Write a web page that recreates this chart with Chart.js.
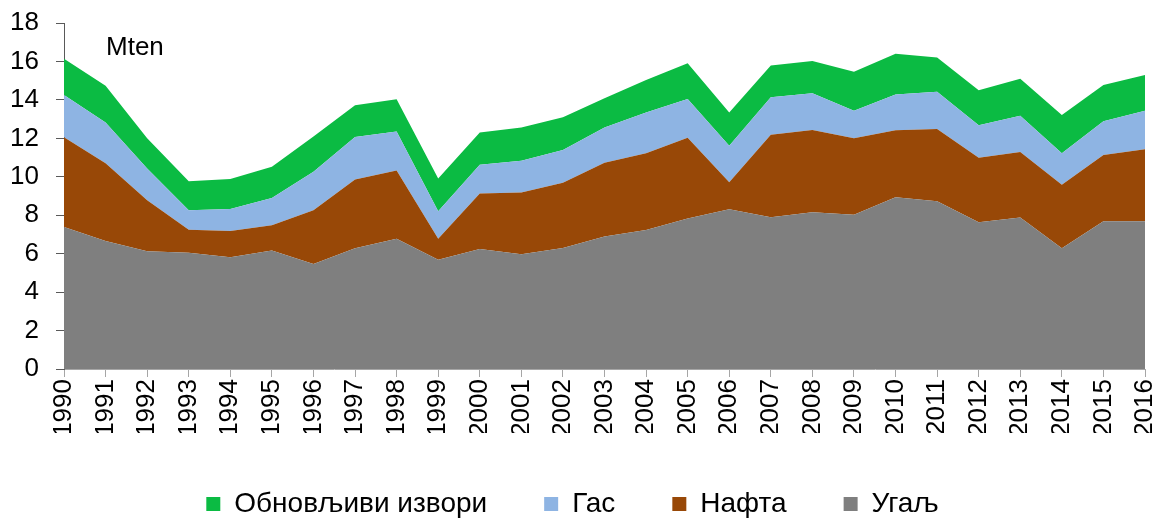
<!DOCTYPE html>
<html>
<head>
<meta charset="utf-8">
<script src="https://cdn.jsdelivr.net/npm/chart.js@4.4.1/dist/chart.umd.min.js"></script>
<style>
  html, body { margin: 0; padding: 0; background: #ffffff; }
  #wrap { width: 1162px; height: 520px; }
</style>
</head>
<body>
<div id="wrap"><canvas id="c" width="1162" height="520"></canvas></div>
<script>
const years = ['1990','1991','1992','1993','1994','1995','1996','1997','1998','1999','2000','2001','2002','2003','2004','2005','2006','2007','2008','2009','2010','2011','2012','2013','2014','2015','2016'];

const coal = [7.39, 6.66, 6.12, 6.05, 5.81, 6.17, 5.46, 6.28, 6.77, 5.69, 6.24, 5.97, 6.30, 6.89, 7.23, 7.83, 8.31, 7.90, 8.16, 8.03, 8.94, 8.73, 7.63, 7.88, 6.28, 7.69, 7.69];
const oil = [4.66, 4.04, 2.66, 1.20, 1.37, 1.31, 2.80, 3.58, 3.56, 1.08, 2.89, 3.21, 3.39, 3.84, 3.99, 4.20, 1.41, 4.29, 4.27, 3.97, 3.48, 3.76, 3.36, 3.41, 3.30, 3.44, 3.74];
const gas = [2.21, 2.13, 1.65, 1.01, 1.15, 1.41, 2.00, 2.21, 2.02, 1.44, 1.50, 1.65, 1.70, 1.83, 2.12, 2.02, 1.90, 1.95, 1.92, 1.44, 1.86, 1.93, 1.69, 1.89, 1.64, 1.76, 2.00];
const renewables = [1.88, 1.90, 1.57, 1.51, 1.55, 1.63, 1.83, 1.65, 1.68, 1.70, 1.67, 1.74, 1.71, 1.53, 1.70, 1.85, 1.72, 1.65, 1.67, 2.02, 2.12, 1.79, 1.82, 1.92, 2.00, 1.89, 1.87];

const seriesNames = ['Угаљ', 'Нафта', 'Гас', 'Обновљиви извори'];
const yTicks = [0, 2, 4, 6, 8, 10, 12, 14, 16, 18];
const unitLabel = 'Mten';

const FONT = '"Liberation Sans", Arial, sans-serif';

const unitPlugin = {
  id: 'unitLabel',
  afterDatasetsDraw(chart) {
    const ctx = chart.ctx;
    const a = chart.chartArea;
    ctx.save();
    ctx.font = '26px ' + FONT;
    ctx.fillStyle = '#000000';
    ctx.textAlign = 'left';
    ctx.textBaseline = 'alphabetic';
    ctx.fillText(unitLabel, a.left + 42, a.top + 32);
    ctx.restore();
  }
};

function areaSet(label, data, color, fill) {
  return {
    label: label,
    data: data,
    backgroundColor: color,
    borderColor: color,
    borderWidth: 0,
    pointRadius: 0,
    pointHoverRadius: 0,
    tension: 0,
    fill: fill
  };
}

new Chart(document.getElementById('c'), {
  type: 'line',
  data: {
    labels: years,
    datasets: [
      areaSet(seriesNames[0], coal, '#7f7f7f', 'origin'),
      areaSet(seriesNames[1], oil, '#984807', '-1'),
      areaSet(seriesNames[2], gas, '#8eb4e3', '-1'),
      areaSet(seriesNames[3], renewables, '#0bbb43', '-1')
    ]
  },
  options: {
    responsive: false,
    animation: false,
    layout: { padding: { left: 0, right: 17, top: 23, bottom: -8 } },
    plugins: {
      tooltip: { enabled: false },
      legend: {
        position: 'bottom',
        reverse: true,
        labels: {
          font: { family: FONT, size: 28 },
          color: '#000000',
          boxWidth: 14,
          boxHeight: 14,
          padding: 57
        }
      }
    },
    scales: {
      x: {
        offset: false,
        grid: { display: true, drawOnChartArea: false, drawTicks: true, tickLength: 8, color: '#a6a6a6' },
        border: { display: true, color: '#a6a6a6' },
        ticks: {
          autoSkip: false,
          maxRotation: 90,
          minRotation: 90,
          padding: 2,
          color: '#000000',
          font: { family: FONT, size: 26 }
        },
        afterFit(scale) {
          scale.height = 64;
          scale.paddingLeft = 0;
          scale.paddingRight = 0;
        }
      },
      y: {
        stacked: true,
        min: 0,
        max: 18,
        afterBuildTicks(scale) { scale.ticks = yTicks.map(v => ({ value: v })); },
        grid: { display: true, drawOnChartArea: false, drawTicks: true, tickLength: 8, color: '#595959' },
        border: { display: true, color: '#595959' },
        ticks: {
          stepSize: 2,
          padding: 17,
          color: '#000000',
          font: { family: FONT, size: 26 }
        },
        afterFit(scale) {
          scale.width = 64;
          scale.paddingTop = 0;
          scale.paddingBottom = 0;
        }
      }
    }
  },
  plugins: [unitPlugin]
});
</script>
</body>
</html>
